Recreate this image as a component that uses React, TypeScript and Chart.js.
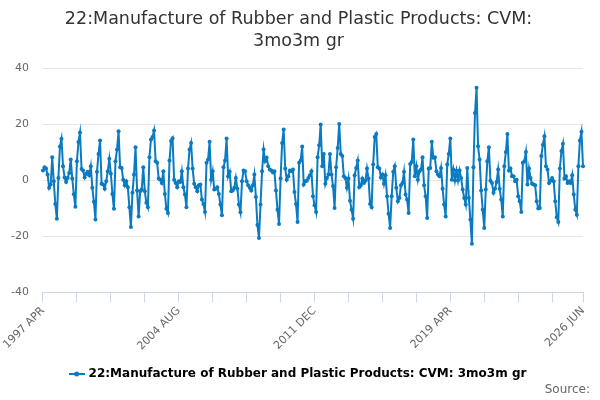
import { useEffect, useRef } from "react";
import { Chart, registerables } from "chart.js";

Chart.register(...registerables);

const MONTHS = ["JAN", "FEB", "MAR", "APR", "MAY", "JUN", "JUL", "AUG", "SEP", "OCT", "NOV", "DEC"];
const START_YEAR = 1997;
const START_MONTH = 3; // April

// 1997 APR - 2001 DEC
const values1997 = [
  3.5, 4.6, 4.2, 2, -2.7, -1.5, 8.2, -0.4, -8.5, -13.7,
  0.8, 12, 14.8, 5, 1, -0.6, 0.8, 2.6, 7.4, 0.6,
  -5, -9.5, 6.8, 13.6, 17, 4, 3.5, 1, 2.3, 3.0, 1.8,
  5, -2.7, -7.7, -14, 3, 9.4, 14.2, -1.3, -1.5, -3,
  -0.4, 3.2, 7.7, 2.3, -4.9, -10.2, 6.8, 11, 17.5, 4.6,
  4.4, 0.2, -1.8, -0.4, -2.5, -9.6,
];
// 2002 JAN - 2006 OCT
const values2002 = [
  -16.7, -4.5, 2, 11.8, -3.7, -12.9, -3.9, -3.3, 4.6, -3.9,
  -8, -9.6, 8.2, 14.5, 15.4, 17.7, 6.8, 6.2, 0.6, 0.2,
  -1, 3.2, -4.9, -10.2, -11.7, 7, 14, 15, 0.2, -1,
  -2.5, -0.4, -0.6, 3.2, -2.5, -5.1, -9.6, 4.2, 11, 13.3,
  4.2, -1.3, -2.5, -3.9, -1.8, -1.5, -6.9, -8.5, -11.3, 6.2,
  7.4, 13.7, 0.2, 3.2, -3.3, -3, -2.5, -4.9,
];
// 2006 NOV - 2011 SEP
const values2006 = [
  -8.7, -12.5, 4.6, 7, 14.9, 1.4, 3, -3.9, -3.7, -2.7,
  0.8, -3, -8.7, -11.4, -0.4, 3.5, 3.2, -0.4, -1.8, -2.7,
  -3.7, -1.8, 2, -6, -16, -20.6, -8.7, 3.2, 11, 6.8,
  8, 5, 3.8, 3.5, 2.8, 3.2, -3.7, -10.5, -15.6, 0.6, 13.3,
  18.1, 4.2, 0.2, 1.4, 3.5, 3.2, 3.8, -4.2, -8.5, -14.9,
  6.2, 7, 12, -1.5, -0.4, -0.2, 0.8, 1.8,
];
// 2011 OCT - 2016 AUG
const values2011 = [
  3.2, -5.7, -8.9, -11.3, 8.2, 12.5, 19.9, 5, 9.4, -1.3,
  0.8, 2, 9.4, 2, -2.1, -9.9, 4.6, 11.5, 20.1, 9.4,
  8.6, 1.4, 0.8, -2.7, 0.6, -7.3, -10.5, -13.7, 1.8, 4.4,
  7, -2.5, -1.8, 0.6, -1, -0.2, 4.2, 0.6, -8.5, -9.6,
  5.6, 15.4, 16.5, 4.6, 4.2, 1, 2, -1.3, 1.8, -5.7,
  -12, -17, -5.7, 3, 5, -2.7, -7.5, -6.3, -1.8,
];
// 2016 SEP - 2021 AUG
const values2016 = [
  -1, 3, -5.1, -6.9, -11.7, 5.8, 6.5, 14.5, 1.4, 5,
  0.2, 3.2, 3.8, 8.2, -1.8, -5.7, -13.5, 4.2, 4.4, 13.7,
  8, 8.2, 3.2, 2, 1.4, 4.4, -3, -8.7, -12.9, 5.6,
  9.4, 14.9, 0.2, 3.8, -0.1, 3.4, -0.1, 3.5, 0.8, -3.3,
  -6.3, -8.7, 4.4, -6.3, -14, -22.7, 4.6, 24, 33, 12.1,
  7.4, -3.7, -10.5, -17, -3.3, 6.8, 11.8, -0.2, -1, -4.5,
];
// 2021 SEP - 2026 JUN
const values2021 = [
  -3, -0.6, 3.8, -3, -6.9, -12.9, 5, 10.1, 16.5, 3.5,
  4.2, 1.4, 1.4, -0.4, 0.2, -5.7, -7.5, -11.3, 6.2, 6.8,
  10.1, -1.5, 4.2, 0.8, -1.3, -1.5, -1.8, -7.5, -10.1, -9.9,
  8.6, 12.7, 15.7, 5, 3.8, -1, -0.2, 0.8, -0.4, -7.5,
  -13.2, -14.9, 4.2, 10.4, 13, 0.6, 1.4, -1, -0.4, -1,
  1.8, -5.1, -10.5, -12.3, 5, 14.2, 17.3, 5,
];

const seriesValues = [...values1997, ...values2002, ...values2006, ...values2011, ...values2016, ...values2021];

const categories = seriesValues.map((_, i) => {
  const m = START_MONTH + i;
  return `${START_YEAR + Math.floor(m / 12)} ${MONTHS[m % 12]}`;
});

const tickLabels = ["1997 APR", "2004 AUG", "2011 DEC", "2019 APR", "2026 JUN"];
const tickStep = 22;

const seriesName = "22:Manufacture of Rubber and Plastic Products: CVM: 3mo3m gr";
const titleLines = ["22:Manufacture of Rubber and Plastic Products: CVM:", "3mo3m gr"];
const sourceText = "Source:";

const LINE_COLOR = "#0a7bc1";

function legendSymbol() {
  const c = document.createElement("canvas");
  c.width = 16;
  c.height = 8;
  const ctx = c.getContext("2d")!;
  ctx.strokeStyle = LINE_COLOR;
  ctx.lineWidth = 2;
  ctx.beginPath();
  ctx.moveTo(0, 4);
  ctx.lineTo(16, 4);
  ctx.stroke();
  ctx.fillStyle = LINE_COLOR;
  ctx.beginPath();
  ctx.arc(8, 4, 2.5, 0, Math.PI * 2);
  ctx.fill();
  return c;
}

// draws the "Source:" credit in the bottom-right corner
const sourcePlugin = {
  id: "sourceCredit",
  afterDraw(chart: Chart) {
    const ctx = chart.ctx;
    ctx.save();
    ctx.font = "12px 'DejaVu Sans', sans-serif";
    ctx.fillStyle = "#666666";
    ctx.textAlign = "right";
    ctx.textBaseline = "middle";
    ctx.fillText(sourceText, chart.width - 10, chart.height - 10);
    ctx.restore();
  },
};

export default function App() {
  const canvasRef = useRef<HTMLCanvasElement>(null);

  useEffect(() => {
    Chart.defaults.font.family = "'DejaVu Sans', sans-serif";
    const symbol = legendSymbol();
    const chart = new Chart(canvasRef.current!, {
      type: "line",
      data: {
        labels: categories,
        datasets: [
          {
            label: seriesName,
            data: seriesValues,
            borderColor: LINE_COLOR,
            backgroundColor: LINE_COLOR,
            borderWidth: 2,
            pointRadius: 2,
            pointStyle: "circle",
            pointBackgroundColor: LINE_COLOR,
            pointBorderWidth: 0,
            tension: 0,
          },
        ],
      },
      plugins: [sourcePlugin],
      options: {
        animation: false,
        responsive: true,
        maintainAspectRatio: false,
        layout: { padding: { left: -3, right: 0, top: 4, bottom: 10 } },
        plugins: {
          title: {
            display: true,
            text: titleLines,
            color: "#333333",
            font: { size: 17.5, weight: "normal", lineHeight: 1.26 },
            padding: { top: 4, bottom: 16 },
          },
          legend: {
            position: "bottom",
            labels: {
              usePointStyle: true,
              color: "#333333",
              font: { size: 12, weight: "bold" },
              padding: 4,
              generateLabels: (ch) => [
                {
                  text: seriesName,
                  pointStyle: symbol as any,
                  fillStyle: LINE_COLOR,
                  strokeStyle: LINE_COLOR,
                  lineWidth: 0,
                  datasetIndex: 0,
                  hidden: !ch.isDatasetVisible(0),
                },
              ],
            },
          },
          tooltip: { enabled: false },
        },
        scales: {
          x: {
            type: "category",
            grid: {
              drawOnChartArea: false,
              drawTicks: true,
              tickLength: 10,
              color: "#ccd6eb",
            },
            border: { color: "#ccd6eb" },
            afterBuildTicks: (scale) => {
              const last = categories.length - 1;
              scale.ticks = scale.ticks.filter(
                (t) => t.value % tickStep === 0 || t.value === last
              );
            },
            afterFit: (scale) => {
              scale.height += 9;
            },
            ticks: {
              autoSkip: false,
              maxRotation: 45,
              minRotation: 45,
              color: "#666666",
              font: { size: 11 },
              padding: 2,
              callback: (v) => {
                const lab = categories[Number(v)];
                return tickLabels.includes(lab) ? lab : "";
              },
            },
          },
          y: {
            min: -40,
            max: 40,
            grid: { color: "#e6e6e6", drawTicks: false },
            border: { display: false },
            ticks: {
              stepSize: 20,
              color: "#666666",
              font: { size: 11 },
              padding: 14,
            },
          },
          yRight: {
            position: "right",
            min: -40,
            max: 40,
            grid: { display: false },
            border: { display: false },
            ticks: { display: false },
            afterFit: (scale) => {
              scale.width = 17;
            },
          },
        },
      },
    });
    return () => chart.destroy();
  }, []);

  return (
    <div style={{ position: "absolute", left: 0, top: 0, width: 600, height: 400 }}>
      <canvas ref={canvasRef} />
    </div>
  );
}
